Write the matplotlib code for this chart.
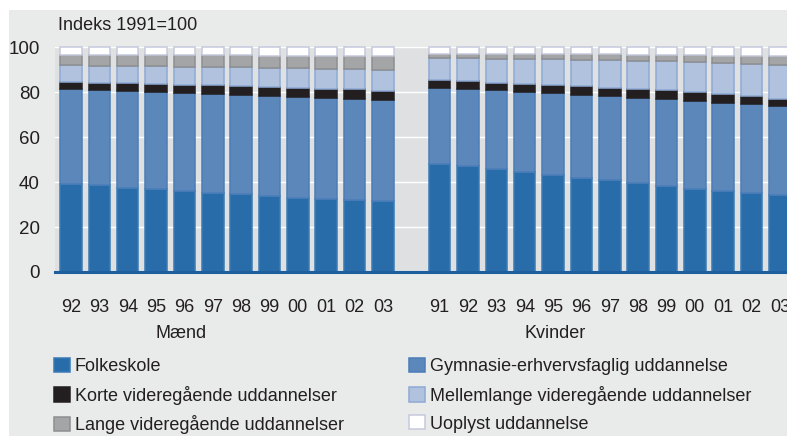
import numpy as np
import matplotlib
matplotlib.use("Agg")
import matplotlib.pyplot as plt
from matplotlib.patches import Rectangle

plt.rcParams['font.family'] = ['Liberation Sans', 'DejaVu Sans']

# ---------------- data ----------------
men_years = ["92", "93", "94", "95", "96", "97", "98", "99", "00", "01", "02", "03"]
women_years = ["91", "92", "93", "94", "95", "96", "97", "98", "99", "00", "01", "02", "03"]
group_labels = ["Mænd", "Kvinder"]

series_names = ["Folkeskole", "Gymnasie-erhvervsfaglig uddannelse",
                "Korte videregående uddannelser", "Mellemlange videregående uddannelser",
                "Lange videregående uddannelser", "Uoplyst uddannelse"]

men_folkeskole = [39.3, 38.5, 37.5, 36.7, 35.9, 35.2, 34.5, 33.7, 33.0, 32.4, 32.0, 31.6]
men_gymnasie = [42.2, 42.5, 43.0, 43.3, 43.7, 43.9, 44.2, 44.5, 44.8, 44.8, 44.9, 44.7]
men_korte = [2.9, 3.1, 3.4, 3.6, 3.7, 3.9, 4.0, 4.2, 4.1, 4.3, 4.3, 4.3]
men_mellemlange = [7.5, 7.6, 7.7, 7.8, 8.0, 8.1, 8.3, 8.4, 8.8, 8.9, 9.0, 9.3]
men_lange = [4.7, 4.9, 4.9, 5.1, 5.1, 5.3, 5.3, 5.4, 5.4, 5.6, 5.8, 6.0]
men_uoplyst = [3.4, 3.4, 3.5, 3.5, 3.6, 3.6, 3.7, 3.8, 3.9, 4.0, 4.0, 4.1]

women_folkeskole = [48.1, 47.0, 45.7, 44.5, 43.3, 42.0, 40.7, 39.4, 38.2, 37.0, 36.0, 35.3, 34.2]
women_gymnasie = [33.8, 34.3, 35.0, 35.6, 36.1, 36.8, 37.5, 38.1, 38.7, 39.1, 39.2, 39.4, 39.4]
women_korte = [3.3, 3.4, 3.4, 3.6, 3.7, 3.7, 3.7, 3.8, 4.0, 3.9, 3.8, 3.4, 3.4]
women_mellemlange = [10.1, 10.3, 10.7, 11.0, 11.4, 11.9, 12.2, 12.6, 12.9, 13.3, 13.7, 14.5, 15.0]
women_lange = [1.7, 1.9, 2.1, 2.1, 2.3, 2.3, 2.6, 2.7, 2.7, 3.0, 3.5, 3.5, 3.9]
women_uoplyst = [3.0, 3.1, 3.1, 3.2, 3.2, 3.3, 3.3, 3.4, 3.5, 3.7, 3.8, 3.9, 4.1]

y_ticks = [0, 20, 40, 60, 80, 100]
y_title = "Indeks 1991=100"

# ---------------- style ----------------
fills = ["#286daa", "#5b87bb", "#231f20", "#b1c2df", "#a3a5a7", "#ffffff"]
edges = ["#3a7bb6", "#4b7db8", "#231f20", "#8eaad5", "#8c8e90", "#c5c9dc"]
plot_bg = "#dfe0e2"
fig_bg = "#e9eaea"
txt = "#231f20"
FS = 13

W, H = 787, 436
fig = plt.figure(figsize=(W / 100, H / 100), dpi=100, facecolor="white")
fig.patches.append(Rectangle((9 / W, 0), 1 - 9 / W, 1 - 10 / H, transform=fig.transFigure,
                             facecolor=fig_bg, edgecolor="none", zorder=-10))

ax = fig.add_axes([55 / W, (H - 272) / H, 1 - 55 / W, (272 - 47) / H])
ax.set_facecolor(plot_bg)

men_x = np.arange(len(men_years))
women_x = np.arange(len(women_years)) + len(men_years) + 1

men_data = [men_folkeskole, men_gymnasie, men_korte, men_mellemlange, men_lange, men_uoplyst]
women_data = [women_folkeskole, women_gymnasie, women_korte, women_mellemlange, women_lange, women_uoplyst]

bw = 0.76
handles = []
for xs, data in [(men_x, men_data), (women_x, women_data)]:
    bottom = np.zeros(len(xs))
    for i, vals in enumerate(data):
        vals = np.asarray(vals)
        bc = ax.bar(xs, vals, bottom=bottom, width=bw, color=fills[i], edgecolor=edges[i],
                    linewidth=1.1, zorder=3, clip_on=False)
        if xs is men_x:
            handles.append(bc)
        bottom = bottom + vals

ax.set_ylim(0, 100)
ax.set_xlim(-0.564, 25.25)
ax.set_yticks(y_ticks)
ax.set_yticklabels([str(v) for v in y_ticks], fontsize=FS + 0.5)
ax.set_xticks(np.concatenate([men_x, women_x]))
ax.set_xticklabels(men_years + women_years, fontsize=FS)
ax.tick_params(axis="x", length=0, pad=19.5, labelcolor=txt)
ax.tick_params(axis="y", length=0, pad=11, labelcolor=txt)
for s in ax.spines.values():
    s.set_visible(False)
ax.grid(axis="y", color="white", linewidth=1.0, zorder=1)
ax.set_axisbelow(True)
ax.axhline(0, color="#1c5e9e", linewidth=2.2, zorder=5, clip_on=False)

# group labels
fig.text(181 / W, 1 - 333 / H, group_labels[0], fontsize=FS, ha="center", va="center", color=txt)
fig.text(555 / W, 1 - 333 / H, group_labels[1], fontsize=FS, ha="center", va="center", color=txt)

fig.text(58 / W, 1 - 26 / H, y_title, fontsize=FS, ha="left", va="center", color=txt)

# legends (two columns)
order1 = [0, 2, 4]
order2 = [1, 3, 5]
common = dict(frameon=False, fontsize=FS, loc="upper left", borderpad=0, borderaxespad=0,
              handlelength=0.88, handleheight=0.82, handletextpad=0.28, labelspacing=0.58,
              bbox_transform=fig.transFigure, labelcolor=txt)
leg1 = fig.legend([handles[i] for i in order1], [series_names[i] for i in order1],
                  bbox_to_anchor=(54 / W, 1 - 358 / H), **common)
leg2 = fig.legend([handles[i] for i in order2], [series_names[i] for i in order2],
                  bbox_to_anchor=(409 / W, 1 - 358 / H), **common)

fig.savefig("out.png", dpi=100, facecolor=fig.get_facecolor())
